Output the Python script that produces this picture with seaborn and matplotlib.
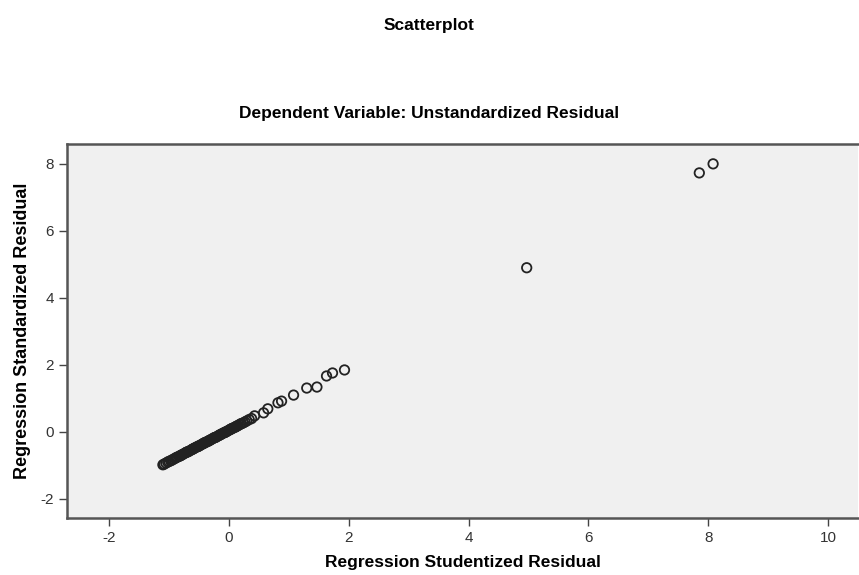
import pandas as pd
import matplotlib.pyplot as plt
import seaborn as sns

# studentized residual (x) vs standardized residual (y)
studentized = [-1.10, -1.08, -1.05, -1.02, -1.00, -0.97, -0.95, -0.93, -0.90, -0.88,
               -0.86, -0.83, -0.81, -0.80, -0.78, -0.76, -0.73, -0.71, -0.70, -0.68,
               -0.66, -0.63, -0.61, -0.60, -0.58, -0.57, -0.54, -0.52, -0.51, -0.49,
               -0.48, -0.45, -0.43, -0.42, -0.40, -0.39, -0.36, -0.34, -0.33, -0.31,
               -0.30, -0.27, -0.25, -0.24, -0.22, -0.21, -0.18, -0.16, -0.15, -0.13,
               -0.12, -0.09, -0.07, -0.06, -0.04, -0.03, 0.00, 0.02, 0.03, 0.05,
               0.06, 0.09, 0.11, 0.12, 0.14, 0.15, 0.18, 0.20, 0.21, 0.24,
               0.27, 0.30, 0.34, 0.38,
               0.43, 0.58, 0.65, 0.82, 0.88, 1.08, 1.30, 1.47, 1.63, 1.73, 1.93,
               4.97, 7.85, 8.08]
standardized = [-0.98, -0.96, -0.93, -0.90, -0.88, -0.86, -0.84, -0.82, -0.79, -0.77,
                -0.75, -0.73, -0.71, -0.70, -0.68, -0.66, -0.63, -0.61, -0.60, -0.59,
                -0.57, -0.54, -0.52, -0.51, -0.49, -0.48, -0.45, -0.44, -0.43, -0.41,
                -0.40, -0.37, -0.35, -0.34, -0.32, -0.31, -0.29, -0.27, -0.26, -0.24,
                -0.23, -0.20, -0.18, -0.17, -0.16, -0.15, -0.12, -0.10, -0.09, -0.07,
                -0.06, -0.03, -0.02, -0.01, 0.01, 0.02, 0.05, 0.07, 0.08, 0.10,
                0.11, 0.13, 0.15, 0.16, 0.18, 0.19, 0.22, 0.24, 0.25, 0.27,
                0.30, 0.33, 0.37, 0.40,
                0.48, 0.57, 0.69, 0.87, 0.92, 1.10, 1.31, 1.34, 1.67, 1.76, 1.85,
                4.90, 7.73, 8.00]

df = pd.DataFrame({"x": studentized, "y": standardized})

sns.set_style("white")
plt.rcParams['font.family'] = ['Liberation Sans Narrow', 'Liberation Sans', 'DejaVu Sans']
plt.rcParams['axes.unicode_minus'] = False

fig = plt.figure(figsize=(8.59, 5.75), dpi=100)
ax = fig.add_axes([0.078, 0.099, 0.921, 0.651])
ax.set_facecolor("#f0f0f0")

sns.scatterplot(data=df, x="x", y="y", ax=ax, marker="o", s=46,
                facecolors="none", edgecolor="#222222", linewidth=1.3)

ax.set_xlim(-2.7, 10.5)
ax.set_ylim(-2.57, 8.6)
ax.set_xticks([-2, 0, 2, 4, 6, 8, 10])
ax.set_yticks([-2, 0, 2, 4, 6, 8])
ax.tick_params(axis="both", direction="out", length=6, width=1, color="#444444",
               labelsize=11, labelcolor="#333333", bottom=True, left=True)

for side in ["top", "left", "bottom"]:
    ax.spines[side].set_color("#555555")
    ax.spines[side].set_linewidth(1.8)
ax.spines["right"].set_visible(False)

ax.set_xlabel("Regression Studentized Residual", fontsize=12.5, fontweight="bold",
              color="black", labelpad=7)
ax.set_ylabel("Regression Standardized Residual", fontsize=13, fontweight="bold",
              color="black", labelpad=7)

fig.text(0.5, 0.955, "Scatterplot", ha="center", va="center", fontsize=12.5,
         fontweight="bold", color="black")
fig.text(0.5, 0.803, "Dependent Variable: Unstandardized Residual", ha="center",
         va="center", fontsize=12.5, fontweight="bold", color="black")

fig.savefig("out.png", dpi=100)
